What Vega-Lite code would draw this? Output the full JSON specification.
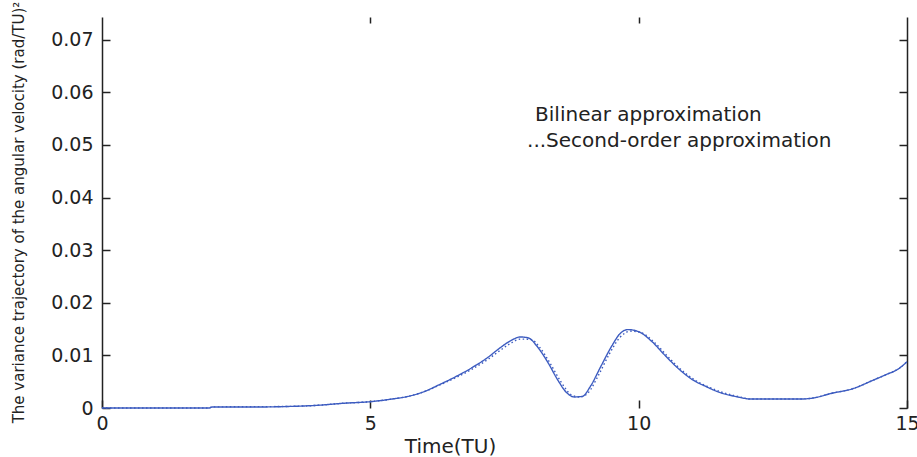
{
  "$schema": "https://vega.github.io/schema/vega-lite/v6.json",
  "width": 805,
  "height": 391,
  "autosize": "none",
  "padding": {"left": 102, "top": 17, "right": 10, "bottom": 49},
  "background": "white",
  "config": {"view": {"stroke": null}, "font": "DejaVu Sans"},
  "datasets": {
    "curves": [
      {"t": 0, "v": 0, "series": "Bilinear"},
      {"t": 1, "v": 0, "series": "Bilinear"},
      {"t": 2, "v": 0, "series": "Bilinear"},
      {"t": 2.05, "v": 0.0002, "series": "Bilinear"},
      {"t": 3, "v": 0.0002, "series": "Bilinear"},
      {"t": 3.5, "v": 0.0003, "series": "Bilinear"},
      {"t": 4, "v": 0.0005, "series": "Bilinear"},
      {"t": 4.5, "v": 0.0009, "series": "Bilinear"},
      {"t": 5, "v": 0.0012, "series": "Bilinear"},
      {"t": 5.4, "v": 0.0017, "series": "Bilinear"},
      {"t": 5.7, "v": 0.0022, "series": "Bilinear"},
      {"t": 6, "v": 0.0031, "series": "Bilinear"},
      {"t": 6.3, "v": 0.0045, "series": "Bilinear"},
      {"t": 6.6, "v": 0.006, "series": "Bilinear"},
      {"t": 6.9, "v": 0.0077, "series": "Bilinear"},
      {"t": 7.2, "v": 0.0097, "series": "Bilinear"},
      {"t": 7.4, "v": 0.0113, "series": "Bilinear"},
      {"t": 7.6, "v": 0.0127, "series": "Bilinear"},
      {"t": 7.8, "v": 0.0135, "series": "Bilinear"},
      {"t": 7.95, "v": 0.0133, "series": "Bilinear"},
      {"t": 8.1, "v": 0.0118, "series": "Bilinear"},
      {"t": 8.3, "v": 0.0088, "series": "Bilinear"},
      {"t": 8.5, "v": 0.0052, "series": "Bilinear"},
      {"t": 8.65, "v": 0.003, "series": "Bilinear"},
      {"t": 8.8, "v": 0.0021, "series": "Bilinear"},
      {"t": 8.95, "v": 0.0022, "series": "Bilinear"},
      {"t": 9.1, "v": 0.0041, "series": "Bilinear"},
      {"t": 9.3, "v": 0.008, "series": "Bilinear"},
      {"t": 9.5, "v": 0.0118, "series": "Bilinear"},
      {"t": 9.65, "v": 0.0141, "series": "Bilinear"},
      {"t": 9.8, "v": 0.0149, "series": "Bilinear"},
      {"t": 10, "v": 0.0145, "series": "Bilinear"},
      {"t": 10.25, "v": 0.0126, "series": "Bilinear"},
      {"t": 10.5, "v": 0.0099, "series": "Bilinear"},
      {"t": 10.75, "v": 0.0074, "series": "Bilinear"},
      {"t": 11, "v": 0.0054, "series": "Bilinear"},
      {"t": 11.25, "v": 0.0041, "series": "Bilinear"},
      {"t": 11.5, "v": 0.003, "series": "Bilinear"},
      {"t": 11.8, "v": 0.0022, "series": "Bilinear"},
      {"t": 12.1, "v": 0.0017, "series": "Bilinear"},
      {"t": 13, "v": 0.0017, "series": "Bilinear"},
      {"t": 13.25, "v": 0.0019, "series": "Bilinear"},
      {"t": 13.6, "v": 0.0028, "series": "Bilinear"},
      {"t": 14, "v": 0.0037, "series": "Bilinear"},
      {"t": 14.35, "v": 0.0052, "series": "Bilinear"},
      {"t": 14.6, "v": 0.0063, "series": "Bilinear"},
      {"t": 14.85, "v": 0.0075, "series": "Bilinear"},
      {"t": 15, "v": 0.0088, "series": "Bilinear"},
      {"t": 0, "v": 0, "series": "Second-order"},
      {"t": 2, "v": 0, "series": "Second-order"},
      {"t": 2.05, "v": 0.0002, "series": "Second-order"},
      {"t": 3.5, "v": 0.0003, "series": "Second-order"},
      {"t": 4, "v": 0.0005, "series": "Second-order"},
      {"t": 4.5, "v": 0.0009, "series": "Second-order"},
      {"t": 5, "v": 0.0012, "series": "Second-order"},
      {"t": 5.4, "v": 0.0017, "series": "Second-order"},
      {"t": 5.7, "v": 0.0022, "series": "Second-order"},
      {"t": 6, "v": 0.0031, "series": "Second-order"},
      {"t": 6.3, "v": 0.0044, "series": "Second-order"},
      {"t": 6.6, "v": 0.0058, "series": "Second-order"},
      {"t": 6.9, "v": 0.0074, "series": "Second-order"},
      {"t": 7.2, "v": 0.0093, "series": "Second-order"},
      {"t": 7.4, "v": 0.0108, "series": "Second-order"},
      {"t": 7.6, "v": 0.0122, "series": "Second-order"},
      {"t": 7.8, "v": 0.0131, "series": "Second-order"},
      {"t": 8, "v": 0.013, "series": "Second-order"},
      {"t": 8.15, "v": 0.0116, "series": "Second-order"},
      {"t": 8.35, "v": 0.0085, "series": "Second-order"},
      {"t": 8.55, "v": 0.005, "series": "Second-order"},
      {"t": 8.75, "v": 0.0025, "series": "Second-order"},
      {"t": 8.9, "v": 0.0021, "series": "Second-order"},
      {"t": 9.05, "v": 0.0028, "series": "Second-order"},
      {"t": 9.25, "v": 0.0062, "series": "Second-order"},
      {"t": 9.45, "v": 0.0102, "series": "Second-order"},
      {"t": 9.65, "v": 0.0134, "series": "Second-order"},
      {"t": 9.85, "v": 0.0146, "series": "Second-order"},
      {"t": 10.05, "v": 0.0143, "series": "Second-order"},
      {"t": 10.3, "v": 0.0124, "series": "Second-order"},
      {"t": 10.55, "v": 0.0097, "series": "Second-order"},
      {"t": 10.8, "v": 0.0072, "series": "Second-order"},
      {"t": 11.05, "v": 0.0053, "series": "Second-order"},
      {"t": 11.3, "v": 0.004, "series": "Second-order"},
      {"t": 11.55, "v": 0.003, "series": "Second-order"},
      {"t": 11.85, "v": 0.0022, "series": "Second-order"},
      {"t": 12.1, "v": 0.0017, "series": "Second-order"},
      {"t": 13, "v": 0.0017, "series": "Second-order"},
      {"t": 13.25, "v": 0.0019, "series": "Second-order"},
      {"t": 13.6, "v": 0.0028, "series": "Second-order"},
      {"t": 14, "v": 0.0037, "series": "Second-order"},
      {"t": 14.35, "v": 0.0052, "series": "Second-order"},
      {"t": 14.6, "v": 0.0063, "series": "Second-order"},
      {"t": 14.85, "v": 0.0075, "series": "Second-order"},
      {"t": 15, "v": 0.0088, "series": "Second-order"}
    ],
    "legendText": [
      {"lx": 8.07, "ly": 0.0557, "label": "Bilinear approximation"},
      {"lx": 7.92, "ly": 0.0508, "label": "...Second-order approximation"}
    ]
  },
  "resolve": {"axis": {"x": "independent", "y": "independent"}},
  "layer": [
    {
      "data": {"name": "curves"},
      "mark": {"type": "line", "strokeWidth": 1.4, "interpolate": "monotone"},
      "encoding": {
        "x": {
          "field": "t", "type": "quantitative",
          "scale": {"domain": [0, 15], "nice": false, "zero": false},
          "axis": {
            "orient": "bottom", "values": [0, 5, 10, 15], "format": "d",
            "domain": false, "grid": false,
            "tickSize": -8, "tickColor": "#222", "tickWidth": 1.5,
            "labelFont": "DejaVu Sans", "labelFontSize": 19, "labelColor": "#222",
            "labelPadding": 14, "labelFlush": false,
            "title": "Time(TU)", "titleFont": "DejaVu Sans", "titleFontSize": 20,
            "titleFontWeight": "normal", "titleColor": "#222",
            "titleX": 348, "titleY": 28, "titleBaseline": "top", "titleAlign": "center"
          }
        },
        "y": {
          "field": "v", "type": "quantitative",
          "scale": {"domain": [0, 0.0743], "nice": false},
          "axis": {
            "orient": "left",
            "values": [0, 0.01, 0.02, 0.03, 0.04, 0.05, 0.06, 0.07],
            "labelExpr": "datum.value == 0 ? '0' : format(datum.value, '.2f')",
            "domain": true, "domainColor": "#222", "domainWidth": 1.5, "grid": false,
            "tickSize": -8, "tickColor": "#222", "tickWidth": 1.5,
            "labelFont": "DejaVu Sans", "labelFontSize": 19, "labelColor": "#222",
            "labelPadding": 17, "labelFlush": false,
            "title": "The variance trajectory of the angular velocity (rad/TU)²",
            "titleFont": "DejaVu Sans", "titleFontSize": 15, "titleFontWeight": "normal",
            "titleColor": "#222", "titleX": -84, "titleY": 195,
            "titleAngle": -90, "titleAlign": "center", "titleBaseline": "middle"
          }
        },
        "color": {
          "field": "series", "type": "nominal",
          "scale": {"domain": ["Bilinear", "Second-order"], "range": ["#3d5cc0", "#3d5cc0"]},
          "legend": null
        },
        "strokeDash": {
          "field": "series", "type": "nominal",
          "scale": {"domain": ["Bilinear", "Second-order"], "range": [[1, 0], [1.5, 2.5]]},
          "legend": null
        }
      }
    },
    {
      "data": {"name": "legendText"},
      "mark": {"type": "text", "align": "left", "baseline": "middle", "font": "DejaVu Sans", "fontSize": 20, "color": "#222"},
      "encoding": {
        "x": {
          "field": "lx", "type": "quantitative",
          "scale": {"domain": [0, 15], "nice": false, "zero": false},
          "axis": {
            "orient": "top", "values": [5, 10], "labels": false, "domain": false,
            "grid": false, "tickSize": -6, "tickColor": "#222", "tickWidth": 1.5, "title": null
          }
        },
        "y": {
          "field": "ly", "type": "quantitative",
          "scale": {"domain": [0, 0.0743], "nice": false},
          "axis": {
            "orient": "right",
            "values": [0, 0.01, 0.02, 0.03, 0.04, 0.05, 0.06, 0.07],
            "labels": false, "domain": true, "domainColor": "#222", "domainWidth": 1.5,
            "grid": false, "tickSize": -8, "tickColor": "#222", "tickWidth": 1.5, "title": null
          }
        },
        "text": {"field": "label"}
      }
    }
  ]
}
